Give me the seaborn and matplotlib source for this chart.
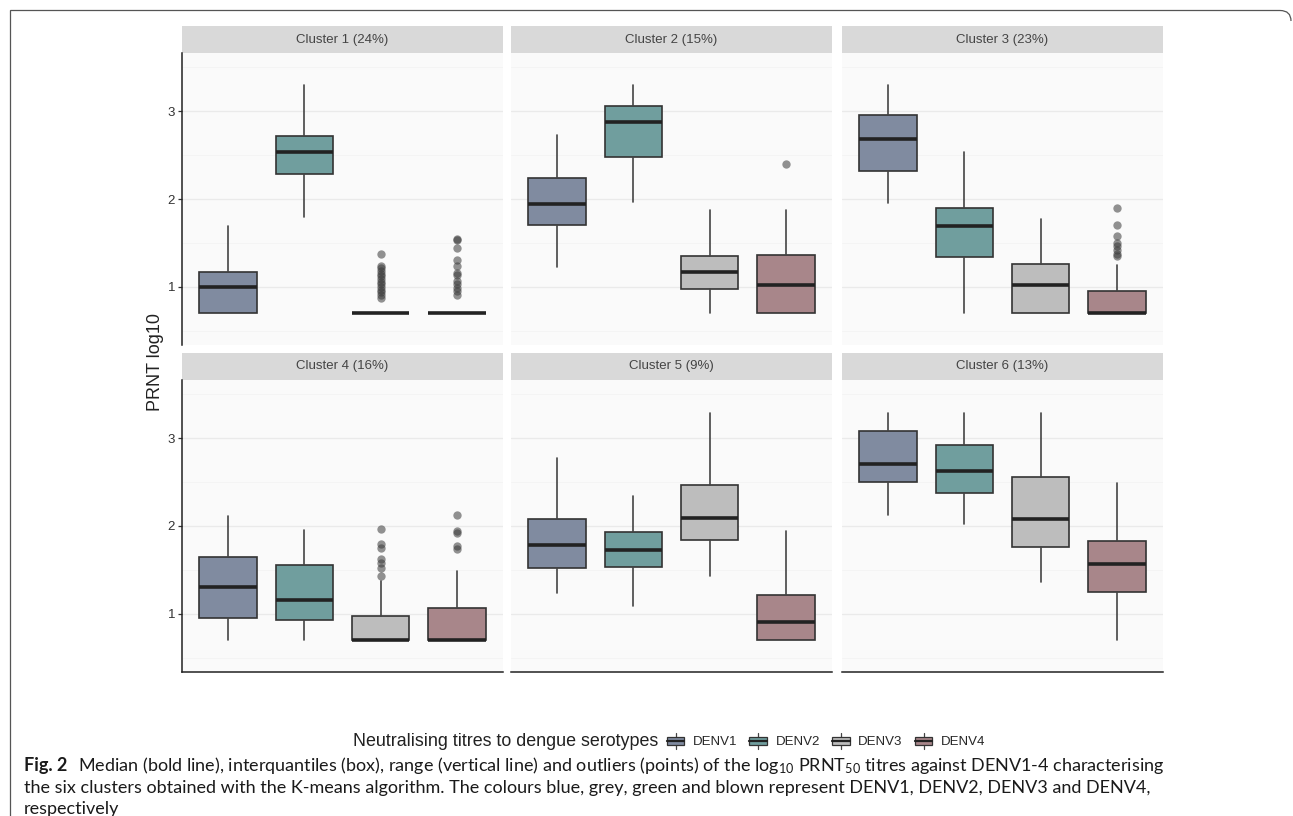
import numpy as np
import pandas as pd
import matplotlib
matplotlib.use("Agg")
import matplotlib.pyplot as plt
import seaborn as sns
from matplotlib.patches import Rectangle, PathPatch, Patch
from matplotlib.path import Path
from matplotlib.lines import Line2D
from matplotlib.legend_handler import HandlerBase

# ---- data: log10 PRNT50 summaries per cluster and serotype ----
clusters = ["Cluster 1 (24%)", "Cluster 2 (15%)", "Cluster 3 (23%)",
            "Cluster 4 (16%)", "Cluster 5 (9%)", "Cluster 6 (13%)"]
serotypes = ["DENV1", "DENV2", "DENV3", "DENV4"]

whisker_low = [[0.70, 1.79, 0.70, 0.70],
               [1.23, 1.97, 0.70, 0.70],
               [1.95, 0.70, 0.70, 0.70],
               [0.70, 0.70, 0.70, 0.70],
               [1.24, 1.09, 1.43, 0.70],
               [2.13, 2.02, 1.36, 0.70]]
q1 = [[0.70, 2.28, 0.70, 0.70],
      [1.71, 2.48, 0.98, 0.70],
      [2.32, 1.34, 0.70, 0.70],
      [0.95, 0.93, 0.70, 0.70],
      [1.52, 1.53, 1.84, 0.70],
      [2.50, 2.37, 1.76, 1.25]]
median = [[1.00, 2.53, 0.70, 0.70],
          [1.94, 2.87, 1.17, 1.02],
          [2.68, 1.69, 1.02, 0.70],
          [1.31, 1.16, 0.70, 0.70],
          [1.78, 1.73, 2.09, 0.91],
          [2.71, 2.62, 2.08, 1.57]]
q3 = [[1.17, 2.72, 0.70, 0.70],
      [2.24, 3.06, 1.35, 1.36],
      [2.95, 1.90, 1.26, 0.95],
      [1.65, 1.56, 0.98, 1.07],
      [2.08, 1.93, 2.47, 1.21],
      [3.08, 2.92, 2.56, 1.83]]
whisker_high = [[1.69, 3.30, 0.70, 0.70],
                [2.73, 3.30, 1.88, 1.88],
                [3.30, 2.54, 1.77, 1.25],
                [2.11, 1.95, 1.37, 1.49],
                [2.77, 2.34, 3.29, 1.94],
                [3.29, 3.29, 3.29, 2.49]]
outliers = [
    [[], [], [1.37, 1.24, 1.21, 1.18, 1.15, 1.12, 1.09, 1.06, 1.03, 1.00, 0.97, 0.94, 0.91, 0.88],
     [1.55, 1.53, 1.44, 1.31, 1.24, 1.16, 1.14, 1.07, 1.03, 0.99, 0.95, 0.91]],
    [[], [], [], [2.40]],
    [[], [], [], [1.90, 1.70, 1.58, 1.50, 1.46, 1.42, 1.38, 1.35]],
    [[], [], [1.97, 1.80, 1.75, 1.63, 1.58, 1.52, 1.43], [2.12, 1.94, 1.92, 1.77, 1.74]],
    [[], [], [], []],
    [[], [], [], []],
]

palette = ["#808BA0", "#709E9E", "#BDBDBD", "#A8868A"]
EDGE = "#333333"
MED = "#222222"

rows = []
for ci, cl in enumerate(clusters):
    for si, st in enumerate(serotypes):
        rows.append(dict(cluster=cl, serotype=st, pos=si,
                         whislo=whisker_low[ci][si], q1=q1[ci][si], med=median[ci][si],
                         q3=q3[ci][si], whishi=whisker_high[ci][si],
                         fliers=outliers[ci][si]))
df = pd.DataFrame(rows)

cap_font = "Lato"

sns.set_theme(style="white")
plt.rcParams["font.family"] = ["Liberation Sans", "DejaVu Sans"]
plt.rcParams["mathtext.fontset"] = "custom"
plt.rcParams["mathtext.rm"] = cap_font
plt.rcParams["mathtext.it"] = cap_font + ":italic"
plt.rcParams["mathtext.bf"] = cap_font + ":bold"


def draw_boxes(data, **kws):
    ax = plt.gca()
    stats = [dict(whislo=r.whislo, q1=r.q1, med=r.med, q3=r.q3, whishi=r.whishi,
                  fliers=np.asarray(r.fliers, dtype=float))
             for r in data.itertuples()]
    art = ax.bxp(stats, positions=data["pos"].to_numpy(), widths=0.75,
                 showcaps=False, patch_artist=True,
                 boxprops=dict(edgecolor=EDGE, linewidth=1.2),
                 whiskerprops=dict(color="#444444", linewidth=1.2),
                 medianprops=dict(color=MED, linewidth=2.6, solid_capstyle="butt"),
                 flierprops=dict(marker="o", markerfacecolor="#3a3a3a",
                                 markeredgecolor="none", alpha=0.55, markersize=6.0),
                 manage_ticks=False)
    for box, p in zip(art["boxes"], data["pos"]):
        box.set_facecolor(palette[int(p)])


g = sns.FacetGrid(df, col="cluster", col_order=clusters, col_wrap=3,
                  sharex=True, sharey=True, height=3, aspect=1.1)
g.map_dataframe(draw_boxes)

fig = g.figure
W, H = 1293, 816
fig.set_size_inches(W / 100, H / 100)

col_left = [182, 511, 842]
panel_w = 321
row_top = [53, 380]
panel_h = 292
strip_h = 27

for i, ax in enumerate(g.axes.flat):
    r, c = divmod(i, 3)
    ax.set_position([col_left[c] / W, 1 - (row_top[r] + panel_h) / H,
                     panel_w / W, panel_h / H])
    ax.set_title("")
    ax.set_xlabel("")
    ax.set_ylabel("")
    ax.set_xlim(-0.6, 3.6)
    ax.set_ylim(0.34, 3.66)
    ax.set_facecolor("#FAFAFA")
    ax.set_yticks([1, 2, 3])
    ax.set_yticks([0.5, 1.5, 2.5, 3.5], minor=True)
    ax.set_xticks([])
    ax.grid(True, which="major", axis="y", color="#EAEAEA", linewidth=0.9)
    ax.grid(True, which="minor", axis="y", color="#F3F3F3", linewidth=0.6)
    ax.grid(False, axis="x")
    ax.set_axisbelow(True)
    for s in ax.spines.values():
        s.set_visible(False)
    if c == 0:
        ax.spines["left"].set_visible(True)
        ax.spines["left"].set_color("#222222")
        ax.spines["left"].set_linewidth(1.1)
        ax.tick_params(axis="y", which="major", left=True, labelleft=True,
                       length=3, width=0.9, color="#333333", labelsize=9.5,
                       labelcolor="#333333", pad=2)
        ax.set_yticklabels(["1", "2", "3"])
    else:
        ax.tick_params(axis="y", which="both", left=False, labelleft=False)
    ax.tick_params(axis="y", which="minor", left=False)
    if r == 1:
        ax.spines["bottom"].set_visible(True)
        ax.spines["bottom"].set_color("#222222")
        ax.spines["bottom"].set_linewidth(1.1)
    ax.tick_params(axis="x", bottom=False, labelbottom=False)
    # facet strip
    ax.add_patch(Rectangle((0, 1), 1, strip_h / panel_h, transform=ax.transAxes,
                           facecolor="#D9D9D9", edgecolor="none", clip_on=False))
    ax.text(0.5, 1 + strip_h / panel_h / 2, clusters[i], transform=ax.transAxes,
            ha="center", va="center", fontsize=9.5, color="#444444")

fig.text(155 / W, 1 - 362 / H, "PRNT log10", rotation=90, ha="center", va="center",
         fontsize=13, color="#222222")


# legend with boxplot-shaped keys
class BoxKey(HandlerBase):
    def create_artists(self, legend, orig_handle, xdescent, ydescent, width, height,
                       fontsize, trans):
        fc = orig_handle.get_facecolor()
        x0, y0 = -xdescent, -ydescent
        cx = x0 + width / 2
        stem = Line2D([cx, cx], [y0, y0 + height], color="#444444", lw=0.9, transform=trans)
        box = Rectangle((x0 + width * 0.08, y0 + height * 0.25), width * 0.84, height * 0.5,
                        facecolor=fc, edgecolor=EDGE, lw=0.9, transform=trans)
        med = Line2D([x0 + width * 0.08, x0 + width * 0.92], [y0 + height / 2] * 2,
                     color=MED, lw=1.6, transform=trans)
        return [stem, box, med]


handles = [Patch(facecolor=col) for col in palette]
leg_y = 1 - 741 / H
fig.text(658 / W, leg_y, "Neutralising titres to dengue serotypes", ha="right",
         va="center", fontsize=12.9, color="#222222")
fig.legend(handles, serotypes, loc="center left", bbox_to_anchor=(665 / W, leg_y),
           ncol=4, frameon=False, handler_map={Patch: BoxKey()}, fontsize=9.5,
           handlelength=1.6, handleheight=1.6, handletextpad=0.5, columnspacing=0.8,
           borderaxespad=0, borderpad=0)

# caption, three lines on common baselines
cap_color = "#1a1a1a"
cap_size = 13.0
cap_left = 24
baselines = [771, 793, 814]
line1 = ("Median (bold line), interquantiles (box), range (vertical line) and outliers (points) "
         "of the log$_{10}$ PRNT$_{50}$ titres against DENV1-4 characterising")
line2 = ("the six clusters obtained with the K-means algorithm. The colours blue, grey, green "
         "and blown represent DENV1, DENV2, DENV3 and DENV4,")
line3 = "respectively"
cap_kw = dict(family=cap_font, fontsize=cap_size, color=cap_color, va="baseline")

fig.canvas.draw()
renderer = fig.canvas.get_renderer()
t_bold = fig.text(cap_left / W, 1 - baselines[0] / H, "Fig. 2", fontweight="bold", **cap_kw)
bw = t_bold.get_window_extent(renderer).width
fig.text((cap_left + bw + 0.6 * cap_size * 100 / 72) / W, 1 - baselines[0] / H, line1,
         **cap_kw)
fig.text(cap_left / W, 1 - baselines[1] / H, line2, **cap_kw)
fig.text(cap_left / W, 1 - baselines[2] / H, line3, **cap_kw)

# figure frame: left and top rules with a rounded top-right corner
def px(x, y):
    return (x / W, 1 - y / H)

verts = [px(10.5, 816), px(10.5, 10.5), px(1280, 10.5), px(1291, 10.5), px(1291, 21)]
codes = [Path.MOVETO, Path.LINETO, Path.LINETO, Path.CURVE3, Path.CURVE3]
fig.add_artist(PathPatch(Path(verts, codes), transform=fig.transFigure, fill=False,
                         edgecolor="#555555", linewidth=0.9))

fig.savefig("out.png", dpi=100)
